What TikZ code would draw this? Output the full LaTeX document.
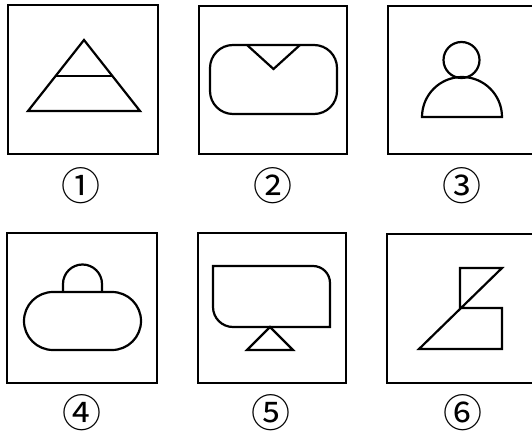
\documentclass[tikz,border=0pt]{standalone}
\usepackage{fontspec}
\newfontfamily\circfont{Noto Sans CJK SC}
\usetikzlibrary{positioning}

\begin{document}
\begin{tikzpicture}[
  x=1pt, y=-1pt,
  panel/.style={rectangle, draw=black, line width=2pt, minimum width=148pt,
                minimum height=148pt, inner sep=0pt},
  tag/.style={font=\circfont\fontsize{39}{39}\selectfont, inner sep=0pt},
  figure/.style={draw=black, line width=2.2pt, line join=miter},
]
\useasboundingbox (0,0) rectangle (532,435);
\clip (0,0) rectangle (532,435);

% ---------------------------------------------------------------- panels --
\node[panel, minimum width=150pt, minimum height=149pt] (p1) at (83,79.5) {};
\node[panel] (p2) at (273,80)  {};
\node[panel] (p3) at (462,80)  {};
\node[panel, minimum width=150pt, minimum height=150pt] (p4) at (82,308) {};
\node[panel, minimum height=150pt] (p5) at (272,308) {};
\node[panel] (p6) at (461,308.5) {};

% ---------------------------------------------------------------- labels --
\node[tag] (lab1) at (81,186)  {①};
\node[tag] (lab2) at (273,186) {②};
\node[tag] (lab3) at (462,186) {③};
\node[tag] (lab4) at (82,413)  {④};
\node[tag] (lab5) at (271,413) {⑤};
\node[tag] (lab6) at (463,413) {⑥};

% --------------------------------------------------------------- figures --
% 1: triangle with a cross bar
\draw[figure] (28,111) -- (84,40) -- (140,111) -- cycle;
\draw[figure] (55.6,76) -- (112.4,76);

% 2: rounded box with a notch
\draw[figure, rounded corners=23pt] (210,45) rectangle (337,114);
\draw[figure] (247,45) -- (273.5,69) -- (300,45);

% 3: head and shoulders
\draw[figure] (461.5,60) circle[radius=18pt];
\draw[figure] (422,117) arc[start angle=180, end angle=0, radius=40pt] -- cycle;

% 4: capsule with a dome
\draw[figure, rounded corners=29pt] (24,292) rectangle (141,350);
\draw[figure] (63,292) -- (63,284) arc[start angle=180, end angle=0, radius=19.5pt] -- (102,292);

% 5: screen on a stand
\draw[figure] (213,266) -- (313,266) arc[start angle=90, end angle=0, radius=17pt]
  -- (330,327) -- (233,327) arc[start angle=270, end angle=180, radius=20pt] -- cycle;
\draw[figure] (270,327) -- (293,350) -- (247,350) -- cycle;

% 6: flag and step
\draw[figure] (460,308) -- (460,268) -- (502,268) -- (419,349) -- (502,349)
  -- (502,308) -- cycle;

\end{tikzpicture}
\end{document}
